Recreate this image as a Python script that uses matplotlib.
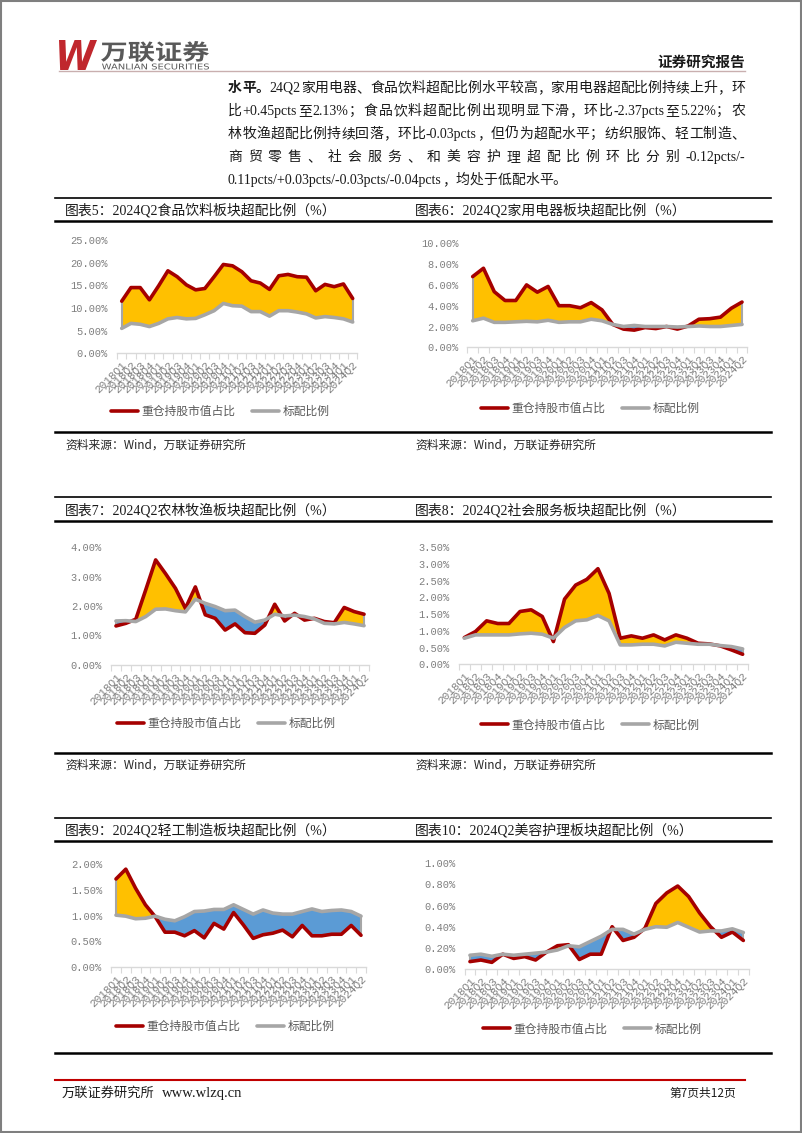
import matplotlib
matplotlib.use('Agg')
import matplotlib.pyplot as plt
from matplotlib.patches import Rectangle, PathPatch
from matplotlib.textpath import TextPath
from matplotlib.font_manager import FontProperties
from matplotlib.transforms import Affine2D
import numpy as np

plt.rcParams['font.family'] = ['Noto Sans CJK SC', 'DejaVu Sans']

# ---- data (percent) ----
quarters = ['2018Q1', '2018Q2', '2018Q3', '2018Q4', '2019Q1', '2019Q2', '2019Q3', '2019Q4',
            '2020Q1', '2020Q2', '2020Q3', '2020Q4', '2021Q1', '2021Q2', '2021Q3', '2021Q4',
            '2022Q1', '2022Q2', '2022Q3', '2022Q4', '2023Q1', '2023Q2', '2023Q3', '2023Q4',
            '2024Q1', '2024Q2']

food_heavy = [11.5, 14.5, 14.5, 11.8, 14.9, 18.2, 16.9, 15.1, 14.0, 14.3, 16.9, 19.6, 19.3,
              18.0, 16.0, 15.5, 14.1, 17.1, 17.4, 16.9, 16.8, 13.8, 15.2, 14.7, 15.3, 12.1]
food_bench = [5.5, 6.6, 6.4, 5.9, 6.6, 7.6, 7.9, 7.6, 7.7, 8.5, 9.4, 11.0, 10.5,
              10.4, 9.2, 9.2, 8.2, 9.4, 9.4, 9.1, 8.7, 7.8, 8.1, 7.9, 7.6, 6.9]

appl_heavy = [6.8, 7.6, 5.35, 4.5, 4.5, 6.0, 5.3, 5.85, 4.0, 4.0, 3.8, 4.3, 3.6,
              2.2, 1.75, 1.65, 1.9, 1.8, 2.0, 1.75, 2.05, 2.7, 2.75, 2.9, 3.75, 4.35]
appl_bench = [2.55, 2.8, 2.4, 2.4, 2.45, 2.5, 2.45, 2.6, 2.4, 2.45, 2.45, 2.7, 2.55,
              2.2, 2.0, 2.1, 2.0, 2.0, 2.0, 1.95, 2.0, 2.05, 2.0, 2.0, 2.1, 2.2]

agri_heavy = [1.32, 1.41, 1.55, 2.55, 3.57, 3.1, 2.6, 1.92, 2.65, 1.7, 1.58, 1.18, 1.39,
              1.09, 1.07, 1.35, 2.06, 1.49, 1.75, 1.52, 1.58, 1.47, 1.43, 1.95, 1.81, 1.72]
agri_bench = [1.49, 1.5, 1.47, 1.64, 1.89, 1.9, 1.84, 1.8, 2.23, 2.09, 1.98, 1.84, 1.86,
              1.64, 1.45, 1.52, 1.72, 1.66, 1.69, 1.64, 1.56, 1.41, 1.39, 1.44, 1.39, 1.33]

social_heavy = [0.80, 0.98, 1.30, 1.22, 1.22, 1.58, 1.63, 1.43, 0.68, 1.95, 2.37, 2.54, 2.86,
                2.12, 0.78, 0.85, 0.78, 0.88, 0.73, 0.88, 0.78, 0.63, 0.61, 0.55, 0.43, 0.30]
social_bench = [0.78, 0.88, 0.88, 0.88, 0.88, 0.91, 0.93, 0.90, 0.78, 1.10, 1.30, 1.33, 1.46,
                1.30, 0.58, 0.58, 0.60, 0.60, 0.55, 0.66, 0.63, 0.60, 0.60, 0.56, 0.53, 0.46]

light_heavy = [1.71, 1.90, 1.53, 1.21, 0.98, 0.68, 0.68, 0.61, 0.71, 0.57, 0.85, 0.74, 1.06,
               0.82, 0.56, 0.63, 0.66, 0.72, 0.59, 0.81, 0.61, 0.61, 0.64, 0.64, 0.81, 0.62]
light_bench = [1.01, 0.99, 0.94, 0.95, 0.99, 0.93, 0.90, 0.98, 1.08, 1.09, 1.12, 1.12, 1.21,
               1.12, 1.03, 1.11, 1.05, 1.03, 1.03, 1.08, 1.13, 1.08, 1.10, 1.11, 1.08, 0.99]

beauty_heavy = [0.07, 0.085, 0.063, 0.14, 0.10, 0.117, 0.085, 0.16, 0.22, 0.23, 0.09, 0.14, 0.14,
                0.40, 0.27, 0.30, 0.385, 0.62, 0.72, 0.785, 0.685, 0.53, 0.40, 0.30, 0.35, 0.27]
beauty_bench = [0.13, 0.14, 0.12, 0.14, 0.13, 0.14, 0.15, 0.16, 0.18, 0.22, 0.21, 0.26, 0.31,
                0.375, 0.375, 0.33, 0.375, 0.40, 0.395, 0.44, 0.395, 0.35, 0.36, 0.36, 0.38, 0.345]

legend_labels = ['重仓持股市值占比', '标配比例']
source_text = '资料来源：Wind，万联证券研究所'

para_lines = [
    [('水平。', 'bold'), ('24Q2家用电器、食品饮料超配比例水平较高，家用电器超配比例持续上升，环', 'normal')],
    [('比+0.45pcts至2.13%；食品饮料超配比例出现明显下滑，环比-2.37pcts至5.22%；农', 'normal')],
    [('林牧渔超配比例持续回落，环比-0.03pcts，但仍为超配水平；纺织服饰、轻工制造、', 'normal')],
    [('商贸零售、社会服务、和美容护理超配比例环比分别-0.12pcts/-', 'normal')],
    [('0.11pcts/+0.03pcts/-0.03pcts/-0.04pcts，均处于低配水平。', 'normal')],
]

W, H = 802, 1133
RED = '#A50000'
GRAY = '#A6A6A6'
TICK = '#7F7F7F'

fig = plt.figure(figsize=(W / 100, H / 100), dpi=100)
page = fig.add_axes([0, 0, 1, 1])
page.set_xlim(0, W)
page.set_ylim(H, 0)
page.axis('off')
renderer = fig.canvas.get_renderer()


def fit_text(s, box, color, **fp):
    # draw a text path squeezed into a pixel box (x0, y0, x1, y1)
    tp = TextPath((0, 0), s, size=10, prop=FontProperties(**fp))
    ext = tp.get_extents()
    x0, y0, x1, y1 = box
    tr = (Affine2D().translate(-ext.x0, -ext.y0)
          .scale((x1 - x0) / ext.width, -(y1 - y0) / ext.height).translate(x0, y1))
    page.add_patch(PathPatch(tr.transform_path(tp), color=color, lw=0))


def split_tokens(segments):
    toks = []
    for s, w in segments:
        buf = ''
        for ch in s:
            if ord(ch) < 128:
                buf += ch
            else:
                if buf:
                    toks.append((buf, w))
                    buf = ''
                toks.append((ch, w))
        if buf:
            toks.append((buf, w))
    return toks


def put_line(segments, y, x0, x1=None, size=10):
    items = []
    for s, w in split_tokens(segments):
        fam = 'Liberation Serif' if s.isascii() else 'Noto Sans CJK SC'
        t = page.text(x0, y, s, fontsize=size, family=fam, weight=w,
                      va='baseline', ha='left', color='#1A1A1A')
        items.append((t, t.get_window_extent(renderer).width))
    total = sum(wd for _, wd in items)
    gap = 0 if x1 is None else (x1 - x0 - total) / (len(items) - 1)
    x = x0
    for t, wd in items:
        t.set_x(x)
        x += wd + gap


# ---- page frame, header, footer ----
page.add_patch(Rectangle((0.75, 0.75), W - 1.5, H - 1.5, fill=False, ec='#7F7F7F', lw=1.5))
fit_text('W', (59, 40, 97, 70), '#C0272D', family='DejaVu Sans', weight='bold', style='oblique')
fit_text('万联证券', (101, 41, 209, 62), '#595959', family='Noto Sans CJK SC', weight='bold')
fit_text('WANLIAN SECURITIES', (102, 63.5, 209, 69.5), '#595959', family='DejaVu Sans')
page.text(745, 62, '证券研究报告', fontsize=10.5, weight='bold', ha='right', va='center', color='#1A1A1A')
page.plot([59, 745], [70.5, 70.5], color='#C9AFAF', lw=1)

para_y = [92, 115, 138, 161, 184]
for i, (segs, y) in enumerate(zip(para_lines, para_y)):
    put_line(segs, y, 228, None if i == len(para_lines) - 1 else 745)

page.plot([55, 745], [1080, 1080], color='#C00000', lw=1.5)
page.text(62, 1093, '万联证券研究所', fontsize=9.5, ha='left', va='center', color='#1A1A1A')
page.text(162, 1093, 'www.wlzq.cn', fontsize=10.5, family='Liberation Serif', ha='left', va='center',
          color='#1A1A1A')
page.text(736, 1093, '第7页共12页', fontsize=8.5, ha='right', va='center', color='#1A1A1A')

# ---- chart boxes ----
rows = [(198.3, 210.7, 221, 432, 445), (497.3, 510, 521, 753, 765), (818.3, 830.7, 841, 1053, None)]
for top, ty, mid, bot, sy in rows:
    page.plot([55, 771], [top, top], color='k', lw=1.2)
    page.plot([55, 771], [mid, mid], color='k', lw=1.8)
    page.plot([55, 771], [bot, bot], color='k', lw=1.8)
    if sy is not None:
        for sx in (65, 415):
            page.text(sx, sy, source_text, fontsize=8.5, ha='left', va='center', color='#262626')

titles = [
    (65, 210.7, '图表5：2024Q2食品饮料板块超配比例（%）'),
    (415, 210.7, '图表6：2024Q2家用电器板块超配比例（%）'),
    (65, 510, '图表7：2024Q2农林牧渔板块超配比例（%）'),
    (415, 510, '图表8：2024Q2社会服务板块超配比例（%）'),
    (65, 830.7, '图表9：2024Q2轻工制造板块超配比例（%）'),
    (415, 830.7, '图表10：2024Q2美容护理板块超配比例（%）'),
]
for tx, ty, s in titles:
    page.text(tx, ty, s, fontsize=10, family=['Liberation Serif', 'Noto Sans CJK SC'],
              ha='left', va='center', color='#1A1A1A')


def add_chart(box, heavy, bench, ymax, ystep, legend_xy):
    left, right, bottom, top = box
    ax = fig.add_axes([left / W, 1 - bottom / H, (right - left) / W, (bottom - top) / H])
    ax.set_facecolor('none')
    x = np.arange(len(quarters))
    h = np.array(heavy)
    b = np.array(bench)
    ax.fill_between(x, h, b, where=h >= b, interpolate=True, color='#FFC000', lw=0)
    ax.fill_between(x, h, b, where=h < b, interpolate=True, color='#5B9BD5', lw=0)
    ax.vlines([x[0], x[-1]], [b[0], b[-1]], [h[0], h[-1]], color=GRAY, lw=1.5)
    l1, = ax.plot(x, h, color=RED, lw=2.6, solid_capstyle='round')
    l2, = ax.plot(x, b, color=GRAY, lw=2.6, solid_capstyle='round')
    ax.set_xlim(-0.5, len(quarters) - 0.5)
    ax.set_ylim(0, ymax)
    yt = np.arange(0, ymax + ystep / 2, ystep)
    ax.set_yticks(yt)
    ax.set_yticklabels([f'{v:.2f}%' for v in yt], family='Liberation Mono', fontsize=7.5, color=TICK)
    ax.tick_params(axis='y', length=0, pad=6.5)
    ax.set_xticks(x)
    ax.set_xticklabels(quarters, rotation=45, ha='right', va='top', rotation_mode='anchor',
                       family='Liberation Mono', fontsize=8, color=TICK)
    ax.set_xticks(np.arange(-0.5, len(quarters), 1), minor=True)
    ax.tick_params(axis='x', which='major', length=0, pad=5)
    ax.tick_params(axis='x', which='minor', length=4, color='#D9D9D9', width=0.8)
    for side in ('left', 'right', 'top'):
        ax.spines[side].set_visible(False)
    ax.spines['bottom'].set_color('#D9D9D9')
    ax.spines['bottom'].set_linewidth(1)
    ax.legend([l1, l2], legend_labels, loc='center', bbox_to_anchor=legend_xy,
              bbox_transform=page.transData, ncol=2, frameon=False, fontsize=8.5,
              handlelength=2.3, handletextpad=0.3, columnspacing=1.4, labelcolor='#595959')
    return ax


add_chart((117.1, 357.3, 353.3, 240.0), food_heavy, food_bench, 25, 5, (220, 411.7))
add_chart((467.3, 747.4, 347.3, 243.3), appl_heavy, appl_bench, 10, 2, (590, 408.3))
add_chart((111.0, 369.0, 664.7, 547.3), agri_heavy, agri_bench, 4, 1, (226.5, 723.3))
add_chart((458.8, 748.2, 664.3, 547.3), social_heavy, social_bench, 3.5, 0.5, (590, 725))
add_chart((111.1, 365.9, 967.3, 864.0), light_heavy, light_bench, 2, 0.5, (225, 1026.7))
add_chart((464.5, 748.8, 969.0, 863.3), beauty_heavy, beauty_bench, 1, 0.2, (592, 1029))

fig.savefig('out.png', dpi=100)
